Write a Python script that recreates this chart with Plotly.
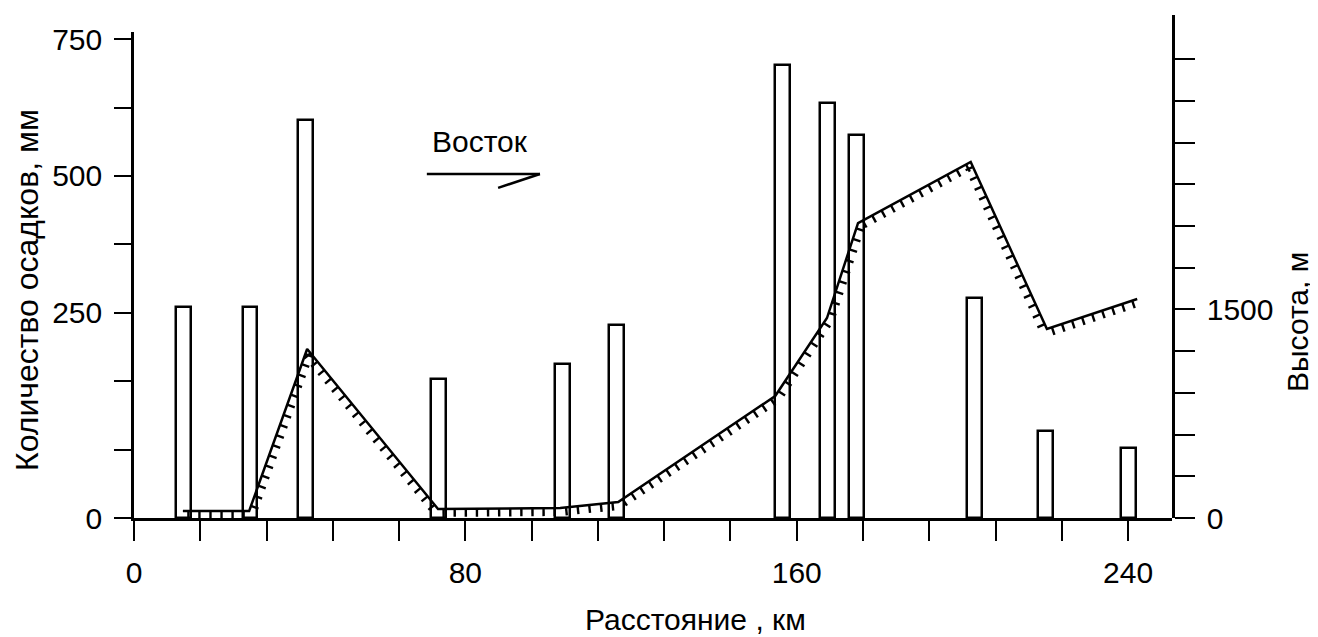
import plotly.graph_objects as go
import numpy as np

# ---------------- data ----------------
# Precipitation stations: distance (km) and precipitation (mm, on the left axis as drawn)
station_km = [12, 28, 41.5, 73.5, 103.5, 116.5, 156.5, 167.5, 174.5, 203, 220, 240]
precip_mm = [330, 330, 623, 218, 241, 302, 709, 650, 600, 344, 136, 110]

# Terrain profile: distance (km) and elevation (m, right axis)
profile_km = [11.8, 27.8, 41.8, 73.4, 102.9, 116.9, 154.8, 167.3, 174.8, 202.0, 220.4, 242.2]
profile_m = [50, 50, 1215, 65, 72, 115, 877, 1438, 2121, 2560, 1359, 1575]

x_tick_vals = list(range(0, 241, 16))
x_tick_labels = ["0" if v == 0 else (str(v) if v in (80, 160, 240) else "") for v in x_tick_vals]
y1_tick_labels = ["0", "", "", "250", "", "500", "", "750"]
y2_tick_vals = list(range(0, 3301, 300))
y2_tick_labels = ["0" if v == 0 else ("1500" if v == 1500 else "") for v in y2_tick_vals]

# ---------------- layout constants ----------------
OFF = 8  # default page margin around the plot div
W, H = 1318 - OFF, 637 - OFF
L, T = 134 - OFF, 15 - OFF
R = W - (1172 - OFF)
B = H - (518 - OFF)
XMAX = 250.6
Y1MAX = 761.0
Y1_DOMAIN_TOP = 0.966
Y2MAX = 3617.0
FONT = "Liberation Sans, Arial, sans-serif"
FS = 30
LW = 2.5

plot_w = W - L - R
plot_h = H - T - B
px_per_km = plot_w / XMAX
px_per_m = plot_h / Y2MAX

# ---------------- hatching for the terrain line ----------------
hx, hy = [], []
step, tlen = 10.5, 8.0
for i in range(len(profile_km) - 1):
    x0, y0 = profile_km[i] * px_per_km, profile_m[i] * px_per_m
    x1, y1 = profile_km[i + 1] * px_per_km, profile_m[i + 1] * px_per_m
    dx, dy = x1 - x0, y1 - y0
    seg = np.hypot(dx, dy)
    nx, ny = dy / seg, -dx / seg  # normal pointing to the ground side
    n = max(1, int(seg // step))
    for k in range(n):
        t = (k + 0.5) / n
        px, py = x0 + dx * t, y0 + dy * t
        hx += [px / px_per_km, (px + nx * tlen) / px_per_km, None]
        hy += [py / px_per_m, (py + ny * tlen) / px_per_m, None]

fig = go.Figure()

fig.add_trace(go.Bar(
    x=station_km, y=precip_mm, width=3.6,
    marker=dict(color="white", line=dict(color="black", width=LW)),
    xaxis="x", yaxis="y", showlegend=False, hoverinfo="x+y",
))

fig.add_trace(go.Scatter(
    x=hx, y=hy, mode="lines", line=dict(color="black", width=2.4),
    xaxis="x", yaxis="y2", showlegend=False, hoverinfo="skip",
))
fig.add_trace(go.Scatter(
    x=profile_km, y=profile_m, mode="lines", line=dict(color="black", width=LW),
    xaxis="x", yaxis="y2", showlegend=False,
))

tickfont = dict(family=FONT, size=FS, color="black")

fig.update_layout(
    width=W, height=H,
    margin=dict(l=L, r=R, t=T, b=B, pad=0, autoexpand=False),
    paper_bgcolor="white", plot_bgcolor="rgba(0,0,0,0)",
    showlegend=False,
    bargap=0,
    xaxis=dict(
        range=[0, XMAX], tickvals=x_tick_vals, ticktext=x_tick_labels,
        ticks="outside", ticklen=20, tickwidth=2, tickcolor="black",
        showline=True, linewidth=LW, linecolor="black",
        showgrid=False, zeroline=False, tickfont=tickfont,
        anchor="y", ticklabelstandoff=6,
    ),
    yaxis=dict(
        domain=[0, Y1_DOMAIN_TOP], range=[0, Y1MAX],
        tickvals=[750 / 7 * k for k in range(8)], ticktext=y1_tick_labels,
        ticks="outside", ticklen=17, tickwidth=2, tickcolor="black",
        showline=True, linewidth=LW, linecolor="black",
        showgrid=False, zeroline=False, tickfont=tickfont,
        anchor="x", ticklabelstandoff=6,
    ),
    yaxis2=dict(
        domain=[0, 1], range=[0, Y2MAX], side="right", anchor="x",
        tickvals=y2_tick_vals, ticktext=y2_tick_labels,
        ticks="outside", ticklen=20, tickwidth=2, tickcolor="black",
        showline=True, linewidth=LW, linecolor="black",
        showgrid=False, zeroline=False, tickfont=tickfont,
        ticklabelstandoff=6,
    ),
)

def px_to_paper(px, py):
    px, py = px - OFF, py - OFF
    return (px - L) / plot_w, (H - B - py) / plot_h

ax, ay = px_to_paper(27, 290)
bx, by = px_to_paper(1297, 322)
cx, cy = px_to_paper(695, 619)

annots = [
    dict(text="Количество осадков, мм", x=ax, y=ay, textangle=-90, size=32),
    dict(text="Высота, м", x=bx, y=by, textangle=-90, size=FS),
    dict(text="Расстояние , км", x=cx, y=cy, textangle=0, size=FS),
]
for a in annots:
    fig.add_annotation(xref="paper", yref="paper", showarrow=False,
                       xanchor="center", yanchor="middle",
                       text=a["text"], x=a["x"], y=a["y"], textangle=a["textangle"],
                       font=dict(family=FONT, size=a["size"], color="black"))

# "Восток" label with half-arrow
fig.add_annotation(text="Восток", x=83.5, y=2705, xref="x", yref="y2",
                   showarrow=False, xanchor="center", yanchor="middle",
                   font=dict(family=FONT, size=FS, color="black"))
fig.add_shape(type="line", xref="x", yref="y2", x0=70.7, y0=2474, x1=98.0, y1=2474,
              line=dict(color="black", width=LW))
fig.add_shape(type="line", xref="x", yref="y2", x0=98.0, y0=2474, x1=87.9, y1=2374,
              line=dict(color="black", width=LW))

fig.write_html("out.html")
